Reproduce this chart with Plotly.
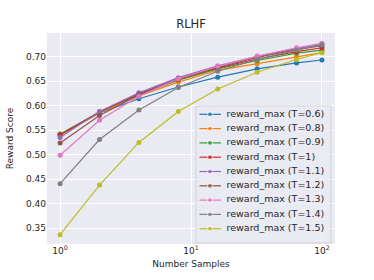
import plotly.graph_objects as go

samples = [1, 2, 4, 8, 16, 32, 64, 100]
temps = ["0.6", "0.8", "0.9", "1", "1.1", "1.2", "1.3", "1.4", "1.5"]
r_06 = [0.540, 0.585, 0.614, 0.638, 0.658, 0.675, 0.687, 0.693]
r_08 = [0.540, 0.585, 0.620, 0.648, 0.672, 0.686, 0.700, 0.708]
r_09 = [0.542, 0.587, 0.623, 0.652, 0.675, 0.692, 0.707, 0.713]
r_10 = [0.540, 0.587, 0.624, 0.654, 0.677, 0.695, 0.710, 0.718]
r_11 = [0.535, 0.588, 0.626, 0.657, 0.681, 0.700, 0.716, 0.725]
r_12 = [0.524, 0.580, 0.622, 0.655, 0.678, 0.698, 0.714, 0.722]
r_13 = [0.499, 0.570, 0.619, 0.655, 0.680, 0.701, 0.718, 0.727]
r_14 = [0.441, 0.531, 0.591, 0.637, 0.670, 0.694, 0.713, 0.724]
r_15 = [0.337, 0.438, 0.525, 0.588, 0.634, 0.668, 0.694, 0.708]
series = [r_06, r_08, r_09, r_10, r_11, r_12, r_13, r_14, r_15]
colors = ["#1f77b4", "#ff7f0e", "#2ca02c", "#d62728", "#9467bd",
          "#8c564b", "#e377c2", "#7f7f7f", "#bcbd22"]
y_ticks = [0.35, 0.40, 0.45, 0.50, 0.55, 0.60, 0.65, 0.70]
x_ticks = [1, 10, 100]
x_ticktext = ["10<sup>0</sup>", "10<sup>1</sup>", "10<sup>2</sup>"]

W, H = 374, 280
L, R, T, B = 47, 335, 33, 244  # plot area in pixels
TXT = "#262626"

fig = go.Figure()
for t, vals, c in zip(temps, series, colors):
    fig.add_trace(go.Scatter(
        x=samples, y=vals, mode="lines+markers",
        name=f"reward_max (T={t})", showlegend=False,
        line=dict(color=c, width=1.2),
        marker=dict(color=c, size=5),
    ))

# --- custom legend drawn on an overlay axis measured in pixels ---
box_l, box_r, box_t, box_b = 196, 331, 106, 243
row0, row_step = 114.3, 14.3
fig.add_trace(go.Scatter(
    x=[box_l, box_r, box_r, box_l, box_l],
    y=[box_t, box_t, box_b, box_b, box_t],
    xaxis="x2", yaxis="y2", mode="lines", fill="toself",
    fillcolor="rgba(234,234,242,0.8)",
    line=dict(color="#D2D2D8", width=1),
    showlegend=False, hoverinfo="skip",
))
for i, (t, c) in enumerate(zip(temps, colors)):
    yy = row0 + i * row_step
    fig.add_trace(go.Scatter(
        x=[199.5, 210, 221], y=[yy, yy, yy],
        xaxis="x2", yaxis="y2", mode="lines+markers",
        line=dict(color=c, width=1.2),
        marker=dict(color=c, size=[0, 5, 0]),
        showlegend=False, hoverinfo="skip",
    ))
    fig.add_trace(go.Scatter(
        x=[226.5], y=[yy], xaxis="x2", yaxis="y2", mode="text",
        text=[f"reward_max (T={t})"], textposition="middle right",
        textfont=dict(size=9.5, color=TXT, family="DejaVu Sans"),
        showlegend=False, hoverinfo="skip",
    ))

font_family = "DejaVu Sans"
fig.update_layout(
    width=W, height=H,
    margin=dict(l=L, r=W - R, t=T, b=H - B, autoexpand=False),
    paper_bgcolor="white", plot_bgcolor="#EAEAF2",
    font=dict(family=font_family, color=TXT, size=9),
    title=dict(text="RLHF", x=0.5, xref="paper", xanchor="center",
               y=1 - 24 / H, yanchor="middle",
               font=dict(size=11.5, color=TXT)),
    showlegend=False,
    hovermode=False,
    xaxis=dict(
        type="log", range=[-0.1, 2.1],
        tickvals=x_ticks, ticktext=x_ticktext,
        showgrid=True, gridcolor="white", gridwidth=1,
        zeroline=False, showline=False, ticks="", automargin=False,
        title=dict(text="Number Samples", font=dict(size=9, color=TXT), standoff=5),
        tickfont=dict(size=9, color=TXT),
    ),
    yaxis=dict(
        range=[0.318, 0.748], tickvals=y_ticks, tickformat=".2f",
        showgrid=True, gridcolor="white", gridwidth=1,
        zeroline=False, showline=False, ticks="", automargin=False,
        title=dict(text="Reward Score", font=dict(size=9, color=TXT), standoff=10),
        tickfont=dict(size=9, color=TXT),
    ),
    xaxis2=dict(overlaying="x", range=[L, R], visible=False, fixedrange=True),
    yaxis2=dict(overlaying="y", range=[B, T], visible=False, fixedrange=True),
)

fig.write_html("out.html",
               config={"displayModeBar": False, "staticPlot": True},
               post_script="document.body.style.margin='0';")
